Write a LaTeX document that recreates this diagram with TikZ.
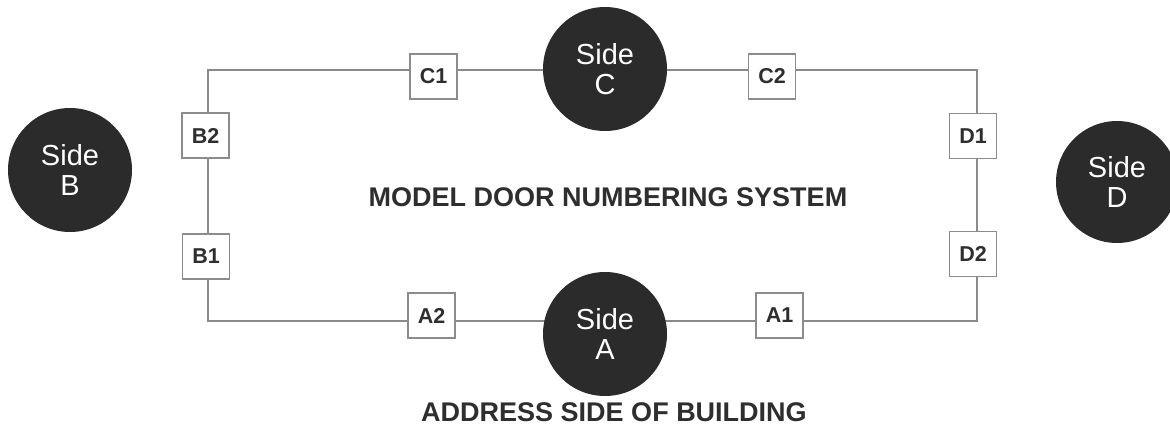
\documentclass[tikz,border=0pt]{standalone}
\usepackage{fontspec}
\setmainfont{Liberation Sans}
\definecolor{wallgray}{HTML}{8A8A8A}
\definecolor{boxgray}{HTML}{8C8C8C}
\definecolor{sidefill}{HTML}{2B2B2B}
\definecolor{textdark}{HTML}{2E2E2E}
\begin{document}
\begin{tikzpicture}[x=1pt,y=-1pt,
  wall/.style={draw=wallgray,line width=1.7pt},
  door/.style={draw=boxgray,line width=1.4pt,fill=white,minimum width=47pt,minimum height=45pt,inner sep=0pt,
    font=\fontsize{21.5}{23}\selectfont\bfseries,text=textdark},
  sidecircle/.style={circle,fill=sidefill,draw=none,minimum size=124pt,inner sep=0pt,align=center,
    text=white,font=\fontsize{29}{30}\selectfont},
  title/.style={font=\fontsize{27}{30}\selectfont\bfseries,text=textdark,inner sep=0pt}]
\useasboundingbox (0,0) rectangle (1170,425);
\coordinate (TL) at (208,70);
\coordinate (TR) at (977,70);
\coordinate (BR) at (977,321);
\coordinate (BL) at (208,321);
\draw[wall] (TL) -- (TR) -- (BR) -- (BL) -- cycle;
\node[sidecircle] (sideC) at (605,69) {Side\\C};
\node[sidecircle] (sideA) at (605,334) {Side\\A};
\node[sidecircle] (sideB) at (70,170) {Side\\B};
\node[sidecircle,minimum size=122pt] (sideD) at (1117,182) {Side\\D};
\node[door] (C1) at (433.5,76.5) {C1};
\node[door] (C2) at (772,76.5) {C2};
\node[door] (B2) at (205.5,135.5) {B2};
\node[door] (B1) at (206,256.5) {B1};
\node[door] (D1) at (973,136) {D1};
\node[door] (D2) at (973,254) {D2};
\node[door] (A2) at (431.5,315.5) {A2};
\node[door] (A1) at (779.5,315.5) {A1};
\node[title] (model) at (608,197.5) {MODEL DOOR NUMBERING SYSTEM};
\node[title] (address) at (614,412) {ADDRESS SIDE OF BUILDING};
\end{tikzpicture}
\end{document}
